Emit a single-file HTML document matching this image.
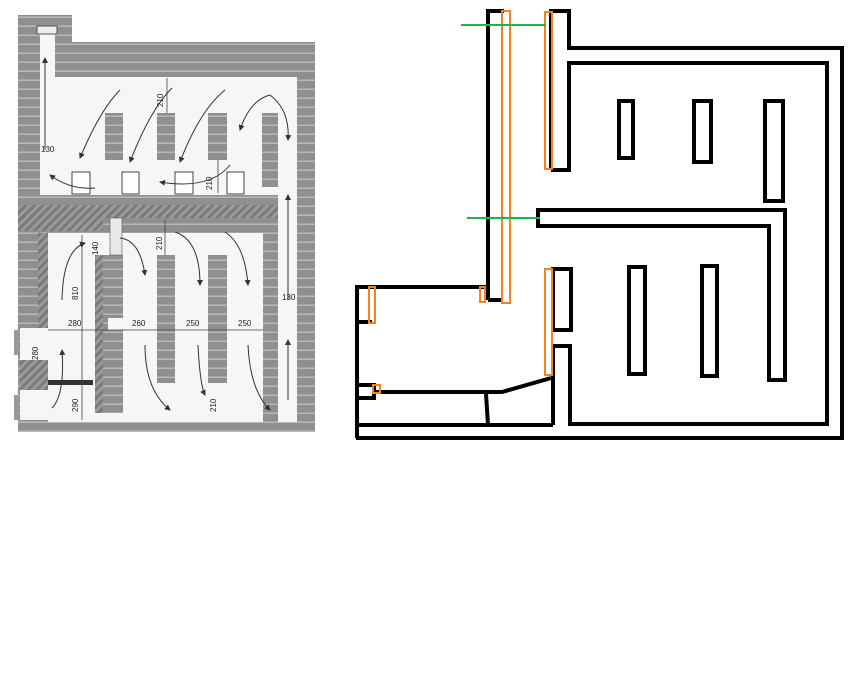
<!DOCTYPE html>
<html><head><meta charset="utf-8"><style>
html,body{margin:0;padding:0;background:#fff;width:864px;height:687px;overflow:hidden}
svg{display:block}
text{font-family:"Liberation Sans",sans-serif;font-size:8px;fill:#222}
</style></head><body>
<svg width="864" height="687" viewBox="0 0 864 687" xmlns="http://www.w3.org/2000/svg">
<defs>
<pattern id="brick" width="10" height="9" patternUnits="userSpaceOnUse">
<rect width="10" height="9" fill="#8f8f8f"/>
<rect y="7.5" width="10" height="1.5" fill="#b8b8b8"/>
</pattern>
<pattern id="hatch" width="6" height="6" patternUnits="userSpaceOnUse" patternTransform="rotate(45)">
<rect width="6" height="6" fill="#9a9a9a"/>
<rect width="3" height="6" fill="#7a7a7a"/>
</pattern>
<marker id="ah" markerWidth="6" markerHeight="6" refX="5" refY="3" orient="auto"><path d="M0,0L6,3L0,6z" fill="#333"/></marker>
</defs>

<rect x="18" y="15" width="54" height="30" fill="url(#brick)"/>
<rect x="18" y="42" width="297" height="390" fill="url(#brick)"/>
<rect x="40" y="30" width="15" height="165" fill="#f6f6f6"/>
<rect x="37" y="26" width="20" height="8" fill="#eee" stroke="#555"/>
<rect x="55" y="77" width="242" height="118" fill="#f6f6f6"/>
<rect x="40" y="160" width="20" height="35" fill="#f6f6f6"/>
<rect x="18" y="205" width="265" height="13" fill="url(#hatch)"/>
<rect x="18" y="218" width="85" height="13" fill="url(#hatch)"/>
<rect x="48" y="233" width="215" height="189" fill="#f6f6f6"/>
<rect x="278" y="195" width="19" height="227" fill="#f6f6f6"/>
<rect x="38" y="233" width="10" height="95" fill="url(#hatch)"/>
<rect x="20" y="328" width="28" height="92" fill="#f6f6f6"/>
<rect x="20" y="360" width="28" height="30" fill="url(#hatch)"/>
<rect x="14" y="330" width="5" height="25" fill="#999"/>
<rect x="14" y="395" width="5" height="25" fill="#999"/>
<rect x="105" y="113" width="18" height="47" fill="url(#brick)"/>
<rect x="157" y="113" width="18" height="47" fill="url(#brick)"/>
<rect x="208" y="113" width="19" height="47" fill="url(#brick)"/>
<rect x="262" y="113" width="16" height="74" fill="url(#brick)"/>
<rect x="72" y="172" width="18" height="22" fill="#fff" stroke="#444"/>
<rect x="122" y="172" width="17" height="22" fill="#fff" stroke="#444"/>
<rect x="175" y="172" width="18" height="22" fill="#fff" stroke="#444"/>
<rect x="227" y="172" width="17" height="22" fill="#fff" stroke="#444"/>
<rect x="95" y="255" width="28" height="158" fill="url(#brick)"/>
<rect x="95" y="255" width="8" height="158" fill="url(#hatch)"/>
<rect x="157" y="255" width="18" height="128" fill="url(#brick)"/>
<rect x="208" y="255" width="19" height="128" fill="url(#brick)"/>
<rect x="263" y="218" width="15" height="197" fill="url(#brick)"/>
<rect x="108" y="318" width="18" height="12" fill="#f6f6f6"/>
<rect x="110" y="218" width="12" height="37" fill="#e8e8e8" stroke="#555" stroke-width="0.6"/>
<rect x="48" y="380" width="45" height="5" fill="#333"/>
<g stroke="#444" stroke-width="0.8" fill="none">
<line x1="48" y1="330" x2="263" y2="330"/>
<line x1="82" y1="235" x2="82" y2="420"/>
<line x1="167" y1="78" x2="167" y2="113"/>
<line x1="218" y1="160" x2="218" y2="193"/>
<line x1="165" y1="220" x2="165" y2="255"/>
</g>
<g stroke="#333" stroke-width="1" fill="none" marker-end="url(#ah)">
<path d="M45 150 L45 58"/>
<path d="M120 90 Q100 110 80 158"/>
<path d="M172 88 Q150 110 130 162"/>
<path d="M225 90 Q200 110 180 162"/>
<path d="M270 95 Q250 100 240 130"/>
<path d="M270 95 Q290 110 288 140"/>
<path d="M95 188 Q70 190 50 175"/>
<path d="M230 165 Q210 190 160 182"/>
<path d="M62 300 Q63 250 85 243"/>
<path d="M120 238 Q140 240 145 275"/>
<path d="M175 232 Q200 240 200 285"/>
<path d="M225 232 Q245 245 248 285"/>
<path d="M52 408 Q65 395 62 350"/>
<path d="M145 345 Q145 390 170 410"/>
<path d="M198 345 Q200 385 205 395"/>
<path d="M248 345 Q250 390 270 410"/>
<path d="M288 400 L288 340"/>
<path d="M288 300 L288 195"/>
</g>
<g>
<text x="68" y="326">280</text><text x="132" y="326">260</text><text x="186" y="326">250</text><text x="238" y="326">250</text>
<text x="41" y="152">130</text><text x="282" y="300">130</text>
<text transform="translate(38,360) rotate(-90)">280</text>
<text transform="translate(163,107) rotate(-90)">210</text>
<text transform="translate(212,190) rotate(-90)">210</text>
<text transform="translate(162,250) rotate(-90)">210</text>
<text transform="translate(98,255) rotate(-90)">140</text>
<text transform="translate(78,300) rotate(-90)">810</text>
<text transform="translate(78,412) rotate(-90)">290</text>
<text transform="translate(216,412) rotate(-90)">210</text>
</g>

<g fill="none" stroke="#000" stroke-width="4" stroke-linejoin="miter">
<path d="M488 300 L488 11 L504 11"/>
<path d="M488 300 L503 300"/>
<path d="M551 170 L551 11 L569 11 L569 48 L842 48 L842 438 L356 438"/>
<path d="M551 170 L569 170 L569 63 L827 63 L827 424 L570 424 L570 346 L553 346 L553 425"/>
<path d="M538 210 L785 210 L785 380 L769 380 L769 226 L538 226 Z"/>
<rect x="553" y="269" width="18" height="61"/>
<rect x="619" y="101" width="14" height="57"/>
<rect x="694" y="101" width="17" height="61"/>
<rect x="765" y="101" width="18" height="100"/>
<rect x="629" y="267" width="16" height="107"/>
<rect x="702" y="266" width="15" height="110"/>
<path d="M488 287 L357 287 L357 438"/>
<rect x="357" y="385" width="17" height="13"/>
<path d="M374 392 L502 392 L551 378"/>
<path d="M486 394 L488 425"/>
<path d="M357 425 L553 425"/>
<path d="M357 322 L372 322"/>
</g>
<g fill="none" stroke="#f58220" stroke-width="2">
<rect x="502" y="11" width="8" height="292"/>
<rect x="545" y="12" width="7" height="157"/>
<rect x="545" y="269" width="7" height="106"/>
<rect x="369" y="287" width="6" height="36"/>
<rect x="480" y="287" width="5" height="15"/>
<rect x="373" y="385" width="7" height="8"/>
</g>
<g stroke="#22b14c" stroke-width="2">
<line x1="461" y1="25" x2="546" y2="25"/>
<line x1="467" y1="218" x2="540" y2="218"/>
</g>
</svg>
</body></html>
